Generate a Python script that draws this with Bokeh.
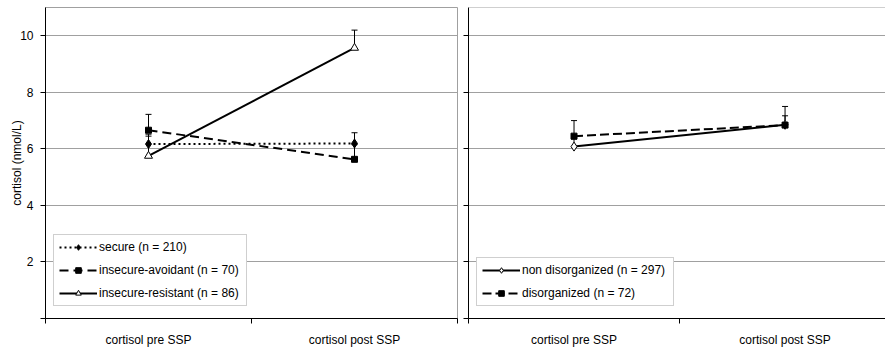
from bokeh.plotting import figure
from bokeh.models import (Range1d, FixedTicker, Legend, LegendItem, Whisker,
                          ColumnDataSource, Span, TeeHead)
from bokeh.layouts import row
from bokeh.embed import file_html
from bokeh.resources import INLINE

# ---------------- data ----------------
categories = ["cortisol pre SSP", "cortisol post SSP"]
y_ticks = [0, 2, 4, 6, 8, 10]

secure_label = "secure (n = 210)"
secure = [6.17, 6.19]
secure_upper = [6.52, 6.57]

avoidant_label = "insecure-avoidant (n = 70)"
avoidant = [6.66, 5.63]
avoidant_upper = [7.22, 6.15]

resistant_label = "insecure-resistant (n = 86)"
resistant = [5.75, 9.57]
resistant_upper = [6.45, 10.20]

nondis_label = "non disorganized (n = 297)"
nondis = [6.08, 6.85]
nondis_upper = [6.35, 7.17]

dis_label = "disorganized (n = 72)"
dis = [6.45, 6.84]
dis_upper = [7.00, 7.50]

FONT = "Liberation Sans"
GRID = "#a0a0a0"
xpos = [i + 0.5 for i in range(len(categories))]


def make_fig(min_left, min_right, frame_w, x_end, show_labels):
    p = figure(frame_width=frame_w, frame_height=311,
               x_range=Range1d(0, x_end), y_range=Range1d(0, 11),
               output_backend="svg", toolbar_location=None,
               min_border_left=min_left, min_border_right=min_right,
               min_border_top=7, min_border_bottom=31)
    p.background_fill_color = "white"
    p.border_fill_color = "white"
    # x axis: labels at centres, ticks at category boundaries
    xa = p.xaxis[0]
    xa.ticker = FixedTicker(ticks=xpos, minor_ticks=list(range(len(categories) + 1)))
    xa.major_label_overrides = {x: c for x, c in zip(xpos, categories)}
    xa.major_tick_out = 0
    xa.major_tick_in = 0
    xa.minor_tick_out = 5
    xa.minor_tick_in = 0
    xa.minor_tick_line_color = "black"
    xa.axis_line_color = "black"
    xa.major_label_text_font = FONT
    xa.major_label_text_font_size = "12px"
    xa.major_label_text_color = "black"
    xa.major_label_standoff = 9
    # y axis
    ya = p.yaxis[0]
    ya.ticker = FixedTicker(ticks=y_ticks)
    ya.major_tick_out = 5
    ya.major_tick_in = 0
    ya.minor_tick_line_color = None
    ya.axis_line_color = "black"
    ya.major_tick_line_color = "black"
    ya.major_label_text_font = FONT
    ya.major_label_text_font_size = "12px"
    ya.major_label_text_color = "black"
    if show_labels:
        ya.major_label_overrides = {0: ""}
        ya.major_label_standoff = 7
        ya.axis_label = "cortisol (nmol/L)"
        ya.axis_label_text_font = FONT
        ya.axis_label_text_font_size = "12px"
        ya.axis_label_text_font_style = "normal"
        ya.axis_label_text_color = "black"
        ya.axis_label_standoff = -7
    else:
        ya.major_label_overrides = {t: "" for t in y_ticks}
        ya.major_label_standoff = 0
    p.xgrid.visible = False
    p.ygrid.ticker = FixedTicker(ticks=[t for t in y_ticks if t > 0])
    p.ygrid.grid_line_color = GRID
    p.ygrid.grid_line_width = 1
    return p


def add_series(p, vals, upper, dash, marker, size, fill):
    src = ColumnDataSource(dict(x=xpos, y=vals, up=upper))
    p.add_layout(Whisker(base="x", lower="y", upper="up", source=src,
                         dimension="height", line_color="black", line_width=1,
                         upper_head=TeeHead(size=6, line_color="black", line_width=1),
                         lower_head=None))
    lr = p.line("x", "y", source=src, line_color="black", line_width=2, line_dash=dash)
    sr = p.scatter("x", "y", source=src, marker=marker, size=size,
                   fill_color=fill, line_color="black", line_width=1)
    return [lr, sr]


def style_legend(items, p, label_width):
    lg = Legend(items=items, location=(8, 12))
    lg.border_line_color = GRID
    lg.border_line_width = 1
    lg.background_fill_color = "white"
    lg.background_fill_alpha = 1
    lg.label_text_font = FONT
    lg.label_text_font_size = "12px"
    lg.label_text_color = "black"
    lg.padding = 5
    lg.spacing = 9
    lg.glyph_height = 14
    lg.label_height = 14
    lg.glyph_width = 38
    lg.label_standoff = 2
    lg.label_width = label_width
    lg.margin = 0
    p.add_layout(lg)


# ---------------- left panel ----------------
p1 = make_fig(45, 1, 412, 2, True)
p1.outline_line_color = GRID
p1.outline_line_width = 1
r_sec = add_series(p1, secure, secure_upper, "2 3", "diamond", 9, "black")
r_avo = add_series(p1, avoidant, avoidant_upper, "9 5", "square", 6, "black")
r_res = add_series(p1, resistant, resistant_upper, "solid", "triangle", 8, "white")
style_legend([LegendItem(label=secure_label, renderers=r_sec),
              LegendItem(label=avoidant_label, renderers=r_avo),
              LegendItem(label=resistant_label, renderers=r_res)], p1, 142)

# ---------------- right panel ----------------
p2 = make_fig(10, 0, 417, 1.976, False)
p2.outline_line_color = None
p2.add_layout(Span(location=11, dimension="width", line_color=GRID, line_width=1))
r_non = add_series(p2, nondis, nondis_upper, "solid", "diamond", 9, "white")
r_dis = add_series(p2, dis, dis_upper, "9 4", "square", 6, "black")
style_legend([LegendItem(label=nondis_label, renderers=r_non),
              LegendItem(label=dis_label, renderers=r_dis)], p2, 146)

layout = row(p1, p2)
open("out.html", "w").write(file_html(layout, INLINE))
